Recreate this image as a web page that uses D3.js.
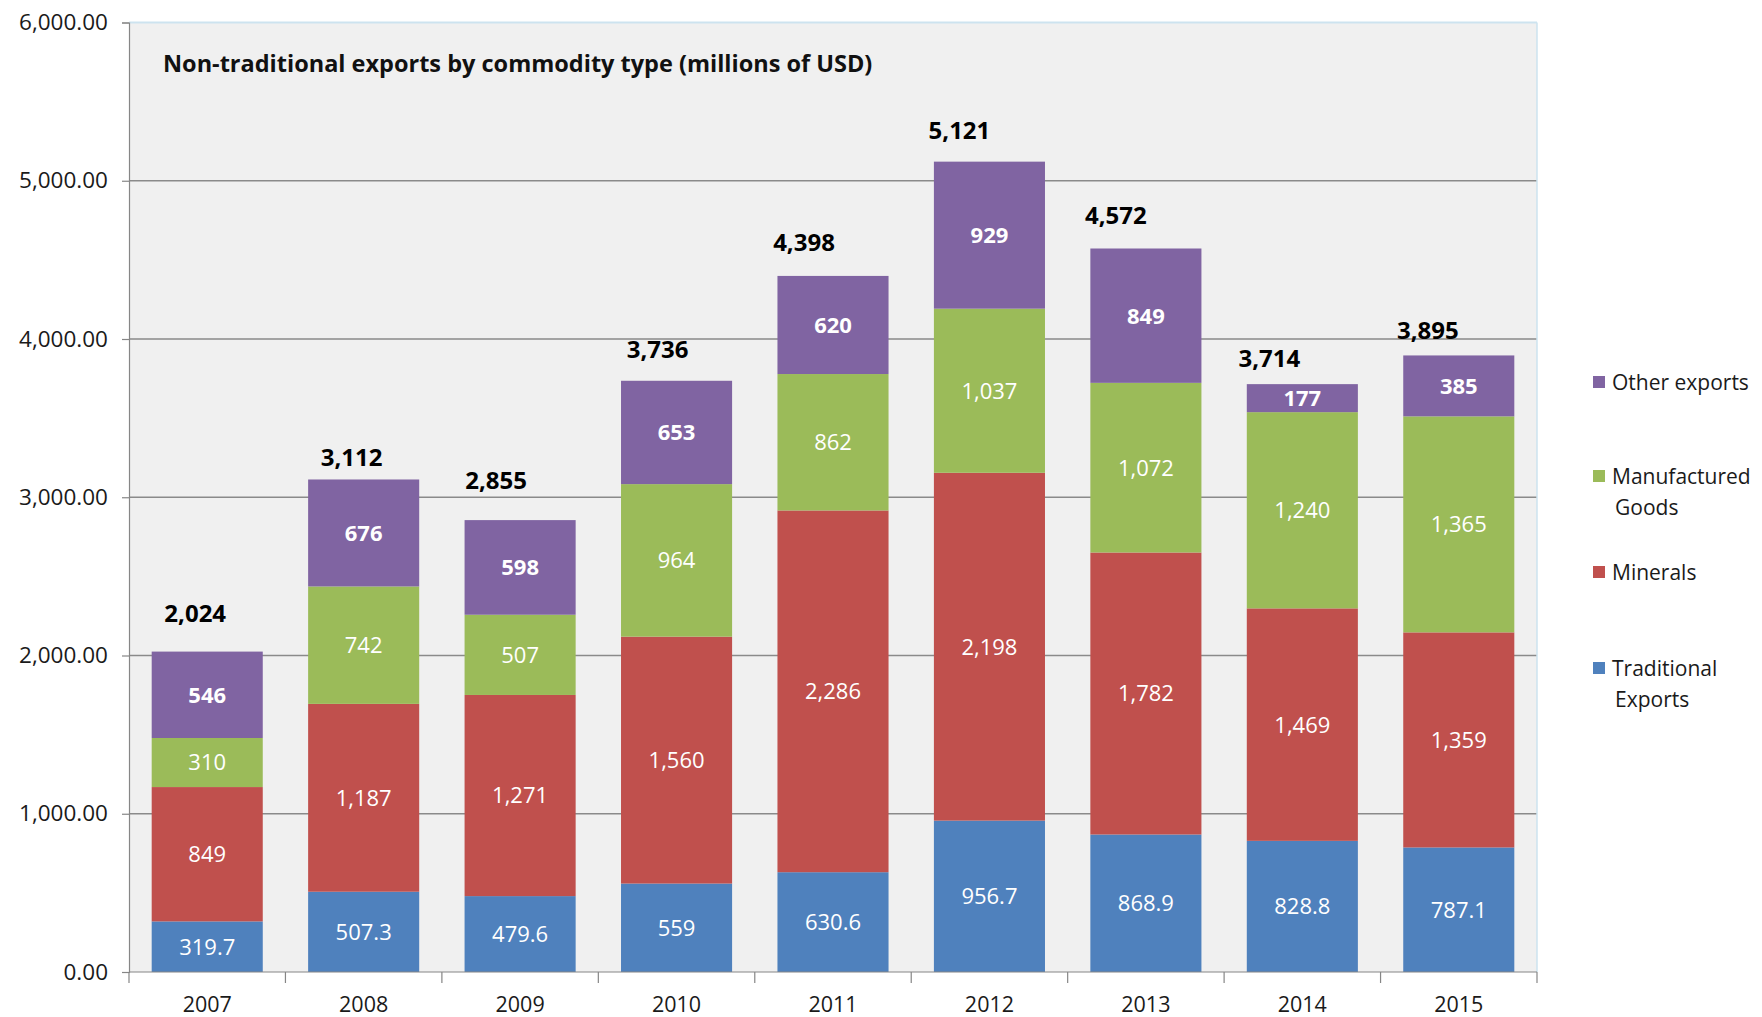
<!DOCTYPE html>
<html>
<head>
<meta charset="utf-8">
<script src="https://cdn.jsdelivr.net/npm/d3@7"></script>
<style>
  html, body { margin: 0; padding: 0; background: #ffffff; }
  svg { display: block; font-family: "Open Sans", "DejaVu Sans", sans-serif; }
</style>
</head>
<body>
<svg id="chart" width="1762" height="1017"></svg>
<script>
// Non-traditional exports by commodity type, millions of USD
const years = ["2007", "2008", "2009", "2010", "2011", "2012", "2013", "2014", "2015"];
const traditional = [319.7, 507.3, 479.6, 559, 630.6, 956.7, 868.9, 828.8, 787.1];
const minerals = [849, 1187, 1271, 1560, 2286, 2198, 1782, 1469, 1359];
const manufactured = [310, 742, 507, 964, 862, 1037, 1072, 1240, 1365];
const other = [546, 676, 598, 653, 620, 929, 849, 177, 385];
const totals = [2024, 3112, 2855, 3736, 4398, 5121, 4572, 3714, 3895];
const yTicks = [0, 1000, 2000, 3000, 4000, 5000, 6000];
const seriesNames = ["Traditional Exports", "Minerals", "Manufactured Goods", "Other exports"];

const title = "Non-traditional exports by commodity type (millions of USD)";

// Layout
const plot = { left: 129, right: 1537, top: 22.5, bottom: 972 };
const colors = ["#4F81BD", "#C0504D", "#9BBB59", "#8064A2"];
// hand-placed nudges for the total labels (dx, dy above bar top)
const totalNudge = [[-12, 38], [-12, 22], [-24, 40], [-19, 31], [-29, 34], [-30, 31], [-30, 33], [-33, 26], [-31, 25]];

const svg = d3.select("#chart");

const x = d3.scaleBand().domain(years).range([plot.left, plot.right])
  .paddingInner(0.29).paddingOuter(0.145);
const y = d3.scaleLinear().domain([0, 6000]).range([plot.bottom, plot.top]);

// plot area background
svg.append("rect")
  .attr("x", plot.left).attr("y", plot.top)
  .attr("width", plot.right - plot.left).attr("height", plot.bottom - plot.top)
  .attr("fill", "#f0f0f0");

// horizontal gridlines
svg.append("g").selectAll("line")
  .data(yTicks.filter(d => d > 0))
  .join("line")
  .attr("x1", plot.left).attr("x2", plot.right)
  .attr("y1", d => y(d)).attr("y2", d => y(d))
  .attr("stroke", d => d === 6000 ? "#cde3ef" : "#8a8a8a")
  .attr("stroke-width", d => d === 6000 ? 2 : 1.3);

// right edge of plot area
svg.append("line")
  .attr("x1", plot.right).attr("x2", plot.right)
  .attr("y1", plot.top).attr("y2", plot.bottom)
  .attr("stroke", "#cde3ef").attr("stroke-width", 1.5);

// stacked data
const rows = years.map((yr, i) => ({
  year: yr,
  "Traditional Exports": traditional[i],
  "Minerals": minerals[i],
  "Manufactured Goods": manufactured[i],
  "Other exports": other[i]
}));
const stacked = d3.stack().keys(seriesNames)(rows);

const fmtVal = v => Number.isInteger(v) ? d3.format(",")(v) : d3.format(",.1f")(v);

const layers = svg.append("g").selectAll("g")
  .data(stacked)
  .join("g")
  .attr("fill", (d, i) => colors[i]);

layers.selectAll("rect")
  .data(d => d)
  .join("rect")
  .attr("x", d => x(d.data.year))
  .attr("width", x.bandwidth())
  .attr("y", d => y(d[1]))
  .attr("height", d => y(d[0]) - y(d[1]));

// segment value labels
svg.append("g").selectAll("g")
  .data(stacked)
  .join("g")
  .each(function (layer, li) {
    d3.select(this).selectAll("text")
      .data(layer)
      .join("text")
      .attr("x", d => x(d.data.year) + x.bandwidth() / 2)
      .attr("y", d => (y(d[0]) + y(d[1])) / 2)
      .attr("dy", "0.36em")
      .attr("text-anchor", "middle")
      .attr("fill", "#ffffff")
      .attr("font-size", 22)
      .attr("font-weight", li === 3 ? 700 : 400)
      .text(d => fmtVal(d.data[layer.key]));
  });

// totals above each bar
svg.append("g").selectAll("text")
  .data(totals)
  .join("text")
  .attr("x", (d, i) => x(years[i]) + x.bandwidth() / 2 + totalNudge[i][0])
  .attr("y", (d, i) => y(d) - totalNudge[i][1])
  .attr("dy", "0.36em")
  .attr("text-anchor", "middle")
  .attr("fill", "#000000")
  .attr("font-size", 24)
  .attr("font-weight", 700)
  .text(d => d3.format(",")(d));

// y axis
const yAxis = svg.append("g")
  .attr("transform", `translate(${plot.left},0)`)
  .call(d3.axisLeft(y).tickValues(yTicks).tickFormat(d3.format(",.2f")).tickSize(7).tickPadding(14));
yAxis.select(".domain").attr("stroke", "#868686").attr("stroke-width", 1.2);
yAxis.selectAll(".tick line").attr("stroke", "#868686").attr("stroke-width", 1.2);
yAxis.selectAll(".tick text")
  .attr("font-family", "'Open Sans', sans-serif")
  .attr("font-size", 22.5).attr("fill", "#1a1a1a");

// x axis: line plus ticks at category boundaries
const xAxisG = svg.append("g");
xAxisG.append("line")
  .attr("x1", plot.left).attr("x2", plot.right)
  .attr("y1", plot.bottom).attr("y2", plot.bottom)
  .attr("stroke", "#868686").attr("stroke-width", 1.2);
const step = x.step();
const boundaries = d3.range(years.length + 1).map(i => plot.left + i * step);
xAxisG.selectAll("line.tk")
  .data(boundaries)
  .join("line")
  .attr("class", "tk")
  .attr("x1", d => d).attr("x2", d => d)
  .attr("y1", plot.bottom).attr("y2", plot.bottom + 11)
  .attr("stroke", "#868686").attr("stroke-width", 1.2);
xAxisG.selectAll("text")
  .data(years)
  .join("text")
  .attr("x", d => x(d) + x.bandwidth() / 2)
  .attr("y", plot.bottom + 32)
  .attr("dy", "0.36em")
  .attr("text-anchor", "middle")
  .attr("font-size", 21.5)
  .attr("fill", "#1a1a1a")
  .text(d => d);

// chart title inside the plot
svg.append("text")
  .attr("x", 163).attr("y", 64)
  .attr("dy", "0.36em")
  .attr("font-size", 23.5)
  .attr("font-weight", 700)
  .attr("fill", "#111111")
  .text(title);

// legend (top to bottom: reverse of stack order)
const legendItems = [
  { name: "Other exports", lines: ["Other exports"], color: colors[3], y: 382 },
  { name: "Manufactured Goods", lines: ["Manufactured", "Goods"], color: colors[2], y: 476 },
  { name: "Minerals", lines: ["Minerals"], color: colors[1], y: 572 },
  { name: "Traditional Exports", lines: ["Traditional", "Exports"], color: colors[0], y: 668 }
];
const legend = svg.append("g");
const li = legend.selectAll("g").data(legendItems).join("g")
  .attr("transform", d => `translate(1593,${d.y})`);
li.append("rect")
  .attr("x", 0).attr("y", -6).attr("width", 12).attr("height", 12)
  .attr("fill", d => d.color);
li.each(function (d) {
  d3.select(this).selectAll("text")
    .data(d.lines)
    .join("text")
    .attr("x", (t, k) => k === 0 ? 19 : 22)
    .attr("y", (t, k) => k * 31)
    .attr("dy", "0.36em")
    .attr("font-size", 21)
    .attr("fill", "#1a1a1a")
    .text(t => t);
});
</script>
</body>
</html>
